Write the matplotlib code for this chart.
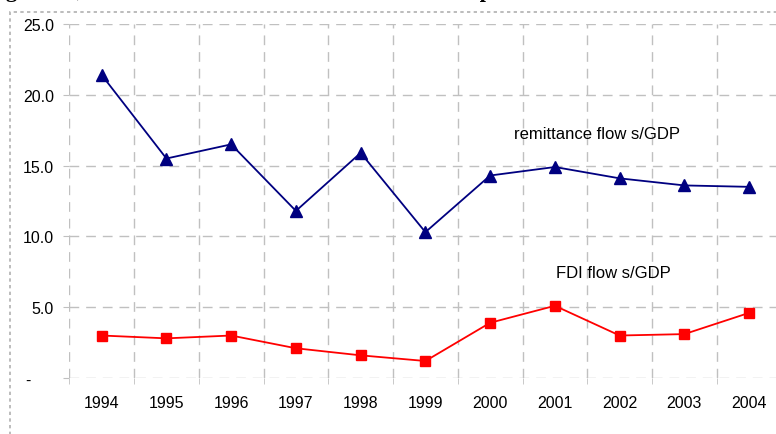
import numpy as np
import matplotlib
matplotlib.use("Agg")
import matplotlib.pyplot as plt
from matplotlib.patches import Rectangle

# values (percent of GDP)
years = ["1994", "1995", "1996", "1997", "1998", "1999", "2000", "2001", "2002", "2003", "2004"]
remit = [21.4, 15.5, 16.5, 11.8, 15.9, 10.3, 14.3, 14.9, 14.1, 13.6, 13.5]
fdi = [3.0, 2.8, 3.0, 2.1, 1.6, 1.2, 3.9, 5.1, 3.0, 3.1, 4.6]
ytick_vals = [0, 5, 10, 15, 20, 25]
ytick_labels = ["-     ", "5.0", "10.0", "15.0", "20.0", "25.0"]

plt.rcParams["font.family"] = ["Liberation Sans", "DejaVu Sans"]

W, H = 776, 435
fig = plt.figure(figsize=(W / 100, H / 100), dpi=100)
# plot area runs past the right edge of the picture, as in the cropped original
ax = fig.add_axes([69.3 / W, (H - 379) / H, (781.5 - 69.3) / W, (379 - 25) / H])

x = np.arange(len(years))
ax.plot(x, remit, color="#000080", lw=1.3, marker="^", ms=8, mec="#000080")
ax.plot(x, fdi, color="#ff0000", lw=1.3, marker="s", ms=7, mec="#ff0000")

ax.set_xlim(-0.5, len(years) - 0.5)
ax.set_ylim(0, 25)

ax.set_xticks(x)
ax.set_xticklabels(years, fontsize=11.5)
ax.set_xticks(np.arange(-0.5, len(years)), minor=True)
ax.set_yticks(ytick_vals)
ax.set_yticklabels(ytick_labels, fontsize=11.5)

ax.tick_params(axis="x", which="major", length=0, pad=12)
ax.tick_params(axis="x", which="minor", length=4, color="#c0c0c0", direction="out")
ax.tick_params(axis="y", length=4, color="#c0c0c0", pad=7)

for s in ax.spines.values():
    s.set_visible(False)

grid_kw = dict(color="#c0c0c0", lw=1, linestyle=(0, (7, 5)))
ax.grid(True, axis="y", which="major", **grid_kw)
ax.grid(True, axis="x", which="minor", **grid_kw)
ax.grid(False, axis="x", which="major")
ax.set_axisbelow(True)

fig.text(597 / W, 1 - 135 / H, "remittance flow s/GDP",
         ha="center", va="center", fontsize=12)
fig.text(613 / W, 1 - 274 / H, "FDI flow s/GDP",
         ha="center", va="center", fontsize=12)

# dotted chart-area border
fig.patches.append(Rectangle((10 / W, -0.1), 1.2, 1.1 - 12.7 / H, transform=fig.transFigure,
                             fill=False, ec="#b0b0b0", lw=1.2, linestyle=(0, (2, 2))))

# caption of the page above, mostly cut off
fig.text(-14 / W, 1 + 3.5 / H, "Figure 12, Remittance and FDI Inflows to Total Output",
         fontsize=16, fontweight="bold", family="Liberation Serif", va="baseline")

fig.savefig("out.png", dpi=100)
